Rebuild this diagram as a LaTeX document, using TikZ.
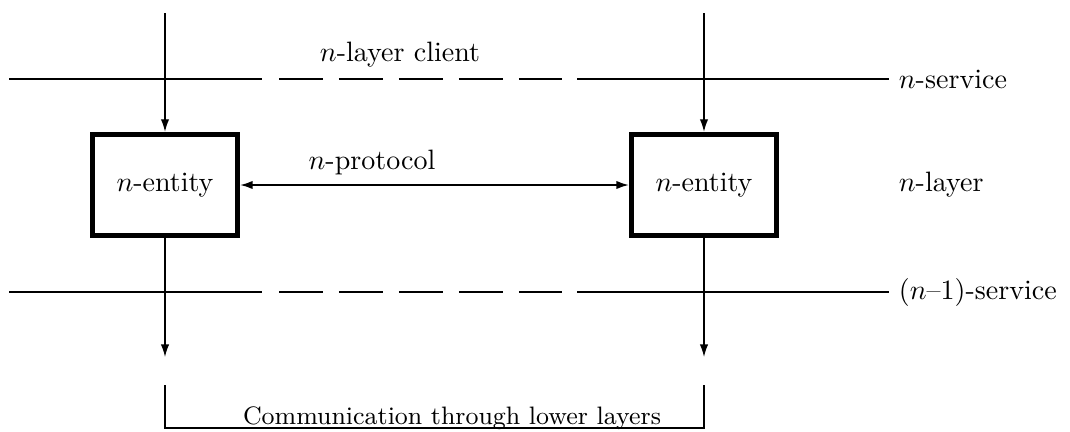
\documentclass[tikz,border=0pt]{standalone}
\usepackage{amsmath,amssymb}
\usepackage{tikz}
\usetikzlibrary{positioning,calc,arrows.meta}

\begin{document}
\begin{tikzpicture}[x=0.01255cm, y=-0.01255cm,
    entity block/.style={draw, rectangle, line width=1.8pt, minimum width=1.82cm, minimum height=1.27cm, align=center},
    service line/.style={line width=0.8pt},
    broken line/.style={service line, dash pattern=on 15.7pt off 5.7pt},
    flow/.style={line width=0.5pt, -{Latex[length=4.5pt,width=3pt]}},
    auto]
    \useasboundingbox (0,0) rectangle (1070,431);

    \node[entity block] (entL) at (165,185) {$n$-entity};
    \node[entity block] (entR) at (704,185) {$n$-entity};

    \node[anchor=west] (nserv) at (889,79) {$n$-service};
    \node[anchor=west] (nlayer) at (889,185) {$n$-layer};
    \node[anchor=west] (lserv) at (889,292) {$(n$--$1)$-service};

    \node (client) at (400,55) {$n$-layer client};
    \node (proto) at (372,162) {$n$-protocol};
    \node[font=\small, anchor=base] (comm) at (452,424) {Communication through lower layers};

    % service boundaries
    \foreach \y/\lab in {79/nserv, 292/lserv} {
        \draw[service line] (9,\y) -- (262,\y);
        \draw[broken line] (279,\y) -- (562,\y);
        \draw[service line] (577,\y) -- (\lab.west);
    }

    \coordinate (inL) at (165,13);
    \coordinate (inR) at (704,13);
    \coordinate (outL) at (165,357);
    \coordinate (outR) at (704,357);
    \coordinate (brL) at (165,385);
    \coordinate (brR) at (704,385);

    \draw[flow] (inL) -- (entL);
    \draw[flow] (inR) -- (entR);
    \draw[flow] (entL) -- (outL);
    \draw[flow] (entR) -- (outR);
    \draw[line width=0.6pt, {Latex[length=4.5pt,width=3pt]}-{Latex[length=4.5pt,width=3pt]}] (entL) -- (entR);

    \draw[line width=0.5pt] (brL) -- ++(0,43) -| (brR);
\end{tikzpicture}
\end{document}
